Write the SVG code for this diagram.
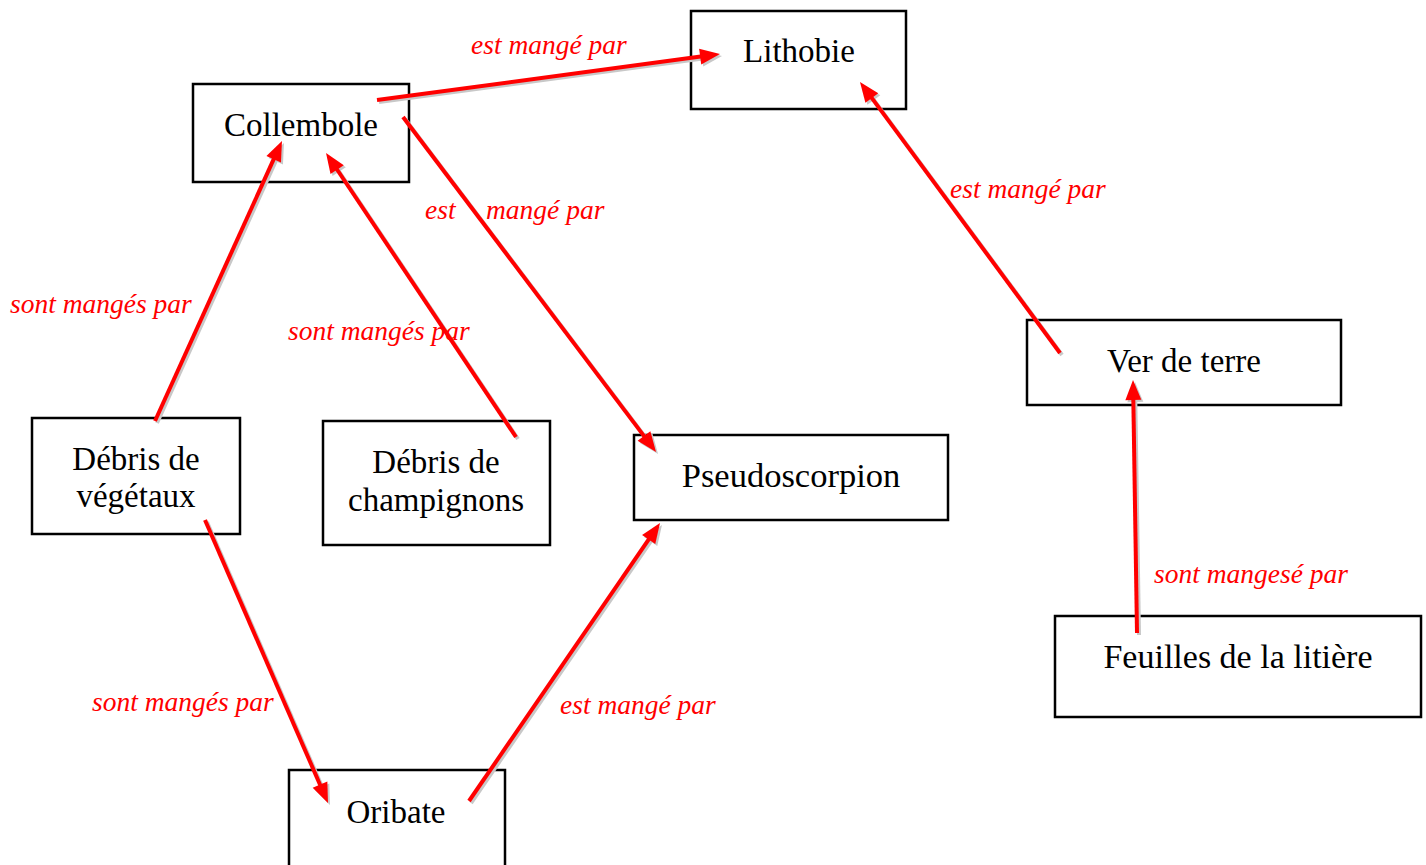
<svg xmlns="http://www.w3.org/2000/svg" width="1426" height="865" viewBox="0 0 1426 865">
  <style>
    .box { fill: #ffffff; stroke: #000000; stroke-width: 2.5; }
    .lbl { font-family: "Liberation Serif", "Times New Roman", serif; font-size: 33px; fill: #000000; text-anchor: middle; }
    .rel { font-family: "Liberation Serif", "Times New Roman", serif; font-style: italic; font-size: 27.5px; fill: #ff0000; }
    .arr { stroke: #ff0000; stroke-width: 4; fill: none; marker-end: url(#head); }
    .sh { stroke: #c8c8c8; stroke-width: 4; fill: none; marker-end: url(#headsh); }
  </style>
  <defs>
    <marker id="head" markerUnits="userSpaceOnUse" markerWidth="22" markerHeight="18" refX="8" refY="8" orient="auto" overflow="visible">
      <path d="M0,0 L20,8 L0,16 Z" fill="#ff0000"/>
    </marker>
    <marker id="headsh" markerUnits="userSpaceOnUse" markerWidth="22" markerHeight="18" refX="8" refY="8" orient="auto" overflow="visible">
      <path d="M0,0 L20,8 L0,16 Z" fill="#c8c8c8"/>
    </marker>
  </defs>
  <rect width="1426" height="865" fill="#ffffff"/>

  <g id="lithobie">
    <rect class="box" x="691" y="11" width="215" height="98"/>
    <text class="lbl" x="799" y="62">Lithobie</text>
  </g>
  <g id="collembole">
    <rect class="box" x="193" y="84" width="216" height="98"/>
    <text class="lbl" x="301" y="136">Collembole</text>
  </g>
  <g id="ver-de-terre">
    <rect class="box" x="1027" y="320" width="314" height="85"/>
    <text class="lbl" x="1184" y="372">Ver de terre</text>
  </g>
  <g id="debris-vegetaux">
    <rect class="box" x="32" y="418" width="208" height="116"/>
    <text class="lbl" x="136" y="470">Débris de</text>
    <text class="lbl" x="136" y="507">végétaux</text>
  </g>
  <g id="debris-champignons">
    <rect class="box" x="323" y="421" width="227" height="124"/>
    <text class="lbl" x="436" y="473">Débris de</text>
    <text class="lbl" x="436" y="511">champignons</text>
  </g>
  <g id="pseudoscorpion">
    <rect class="box" x="634" y="435" width="314" height="85"/>
    <text class="lbl" x="791" y="487" style="font-size:34.5px">Pseudoscorpion</text>
  </g>
  <g id="feuilles">
    <rect class="box" x="1055" y="616" width="366" height="101"/>
    <text class="lbl" x="1238" y="668" style="font-size:34px">Feuilles de la litière</text>
  </g>
  <g id="oribate">
    <rect class="box" x="289" y="770" width="216" height="110"/>
    <text class="lbl" x="396" y="823">Oribate</text>
  </g>

  <g id="connectors">
    <g transform="translate(2,2)">
      <line class="sh" x1="377" y1="100" x2="708.1" y2="55.6"/>
      <line class="sh" x1="403" y1="117" x2="648.8" y2="442.4"/>
      <line class="sh" x1="155" y1="421" x2="277" y2="151.9"/>
      <line class="sh" x1="516" y1="437" x2="332.7" y2="163"/>
      <line class="sh" x1="205" y1="520" x2="323.2" y2="792"/>
      <line class="sh" x1="469" y1="801" x2="653.2" y2="532.9"/>
      <line class="sh" x1="1060" y1="353" x2="867.1" y2="91.6"/>
      <line class="sh" x1="1137" y1="633" x2="1133.2" y2="392"/>
    </g>
    <line class="arr" x1="377" y1="100" x2="708.1" y2="55.6"/>
    <line class="arr" x1="403" y1="117" x2="648.8" y2="442.4"/>
    <line class="arr" x1="155" y1="421" x2="277" y2="151.9"/>
    <line class="arr" x1="516" y1="437" x2="332.7" y2="163"/>
    <line class="arr" x1="205" y1="520" x2="323.2" y2="792"/>
    <line class="arr" x1="469" y1="801" x2="653.2" y2="532.9"/>
    <line class="arr" x1="1060" y1="353" x2="867.1" y2="91.6"/>
    <line class="arr" x1="1137" y1="633" x2="1133.2" y2="392"/>

    <text class="rel" x="471" y="54">est mangé par</text>
    <text class="rel" x="425" y="219">est</text>
    <text class="rel" x="486" y="219">mangé par</text>
    <text class="rel" x="10" y="313">sont mangés par</text>
    <text class="rel" x="288" y="340">sont mangés par</text>
    <text class="rel" x="950" y="198">est mangé par</text>
    <text class="rel" x="1154" y="583">sont mangesé par</text>
    <text class="rel" x="92" y="711">sont mangés par</text>
    <text class="rel" x="560" y="714">est mangé par</text>
  </g>
</svg>
